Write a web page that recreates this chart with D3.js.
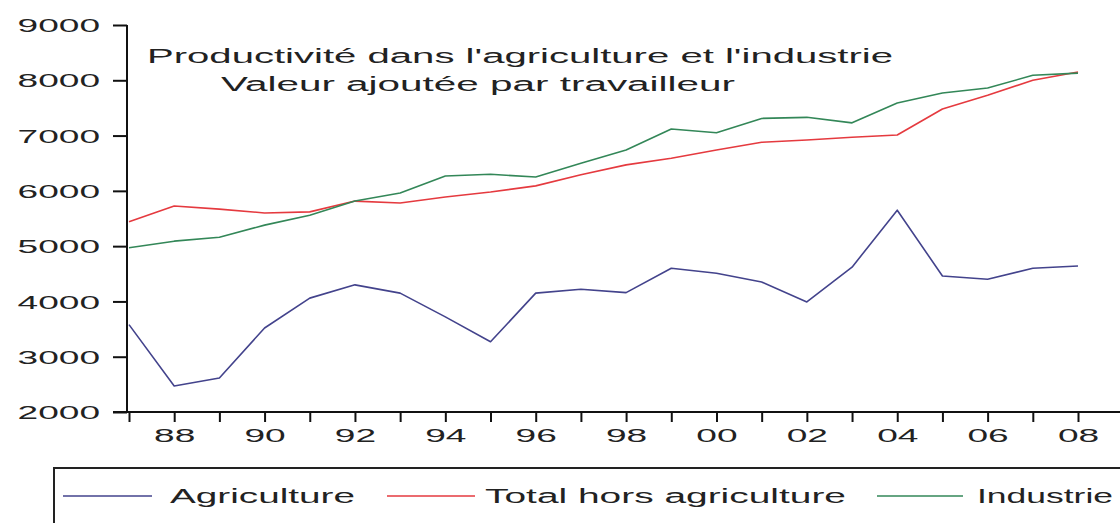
<!DOCTYPE html>
<html>
<head>
<meta charset="utf-8">
<script src="https://cdn.jsdelivr.net/npm/d3@7"></script>
<style>
  body { margin: 0; background: #fff; }
  svg { display: block; }
</style>
</head>
<body>
<div id="chart"></div>
<script>
const years = d3.range(1987, 2009);
const agriculture = [3580, 2470, 2615, 3520, 4060, 4300, 4150, 3720, 3270, 4150, 4220,
  4160, 4600, 4510, 4350, 3990, 4620, 5650, 4460, 4400, 4600, 4640];
const totalHorsAgri = [5440, 5725, 5670, 5600, 5620, 5815, 5780, 5890, 5980, 6090, 6290,
  6470, 6590, 6740, 6880, 6920, 6970, 7010, 7480, 7730, 8000, 8150];
const industrie = [4970, 5090, 5160, 5380, 5560, 5815, 5960, 6270, 6300, 6250, 6500,
  6740, 7120, 7050, 7310, 7330, 7230, 7590, 7770, 7860, 8090, 8130];
const yTicks = [2000, 3000, 4000, 5000, 6000, 7000, 8000, 9000];
const titleLines = ["Productivité dans l'agriculture et l'industrie", "Valeur ajoutée par travailleur"];

const series = [
  { name: "Agriculture", values: agriculture, color: "#43438c" },
  { name: "Total hors agriculture", values: totalHorsAgri, color: "#e53a3f" },
  { name: "Industrie", values: industrie, color: "#338758" }
];

const W = 1120, H = 523;
const SX = 1.95; // the source picture is stretched horizontally
const textColor = "#222";

const x = d3.scaleLinear().domain([1987, 2008]).range([129, 1078]);
const y = d3.scaleLinear().domain([2000, 9000]).range([412, 25]);
const axisX = 127;

const svg = d3.select("#chart").append("svg")
  .attr("width", W).attr("height", H)
  .style("font-family", "'Liberation Sans', Arial, sans-serif");

// y axis
const yAxis = svg.append("g")
  .attr("transform", `translate(${axisX},0)`)
  .call(d3.axisLeft(y).tickValues(yTicks).tickSize(14).tickSizeOuter(0).tickFormat(d3.format("d")));
yAxis.select(".domain").remove();
yAxis.selectAll(".tick line").attr("stroke", "#111").attr("stroke-width", 2);
yAxis.selectAll(".tick text")
  .attr("x", -27 / SX)
  .attr("dy", "0.35em")
  .attr("transform", `scale(${SX},1)`)
  .style("font-size", "19px")
  .attr("fill", textColor);
svg.append("line")
  .attr("x1", axisX).attr("x2", axisX)
  .attr("y1", y(9000)).attr("y2", y(2000))
  .attr("stroke", "#111").attr("stroke-width", 2);

// x axis
const xAxis = svg.append("g")
  .attr("transform", `translate(0,${y(2000)})`)
  .call(d3.axisBottom(x).tickValues(years).tickSize(10).tickSizeOuter(0)
    .tickFormat(d => d % 2 === 0 ? d3.format("02d")(d % 100) : ""));
xAxis.select(".domain").remove();
xAxis.selectAll(".tick line").attr("stroke", "#111").attr("stroke-width", 2);
xAxis.selectAll(".tick text")
  .attr("y", 17)
  .attr("transform", `scale(${SX},1)`)
  .style("font-size", "19px")
  .attr("fill", textColor);
svg.append("line")
  .attr("x1", axisX - 14).attr("x2", x(2009))
  .attr("y1", y(2000)).attr("y2", y(2000))
  .attr("stroke", "#111").attr("stroke-width", 2);

// lines
const line = d3.line()
  .x((d, i) => x(years[i]))
  .y(d => y(d));

series.forEach(s => {
  svg.append("path")
    .datum(s.values)
    .attr("fill", "none")
    .attr("stroke", s.color)
    .attr("stroke-width", 1.6)
    .attr("stroke-linejoin", "round")
    .attr("d", line);
});

// title (stretched to the widths seen in the source)
const titlePos = [[147, 63, 746], [221, 91, 514]];
titleLines.forEach((t, i) => {
  svg.append("text")
    .attr("x", titlePos[i][0]).attr("y", titlePos[i][1])
    .attr("textLength", titlePos[i][2])
    .attr("lengthAdjust", "spacingAndGlyphs")
    .style("font-size", "20px")
    .attr("fill", textColor)
    .text(t);
});

// legend
svg.append("rect")
  .attr("x", 54).attr("y", 468)
  .attr("width", 1100).attr("height", 100)
  .attr("fill", "none")
  .attr("stroke", "#222").attr("stroke-width", 2);

const legendPos = [[63, 152, 170, 185], [387, 475, 485, 361], [877, 963, 977, 136]];
series.forEach((s, i) => {
  const p = legendPos[i];
  svg.append("line")
    .attr("x1", p[0]).attr("x2", p[1])
    .attr("y1", 496).attr("y2", 496)
    .attr("stroke", s.color).attr("stroke-width", 1.6);
  svg.append("text")
    .attr("x", p[2]).attr("y", 503)
    .attr("textLength", p[3])
    .attr("lengthAdjust", "spacingAndGlyphs")
    .style("font-size", "20px")
    .attr("fill", textColor)
    .text(s.name);
});
</script>
</body>
</html>
